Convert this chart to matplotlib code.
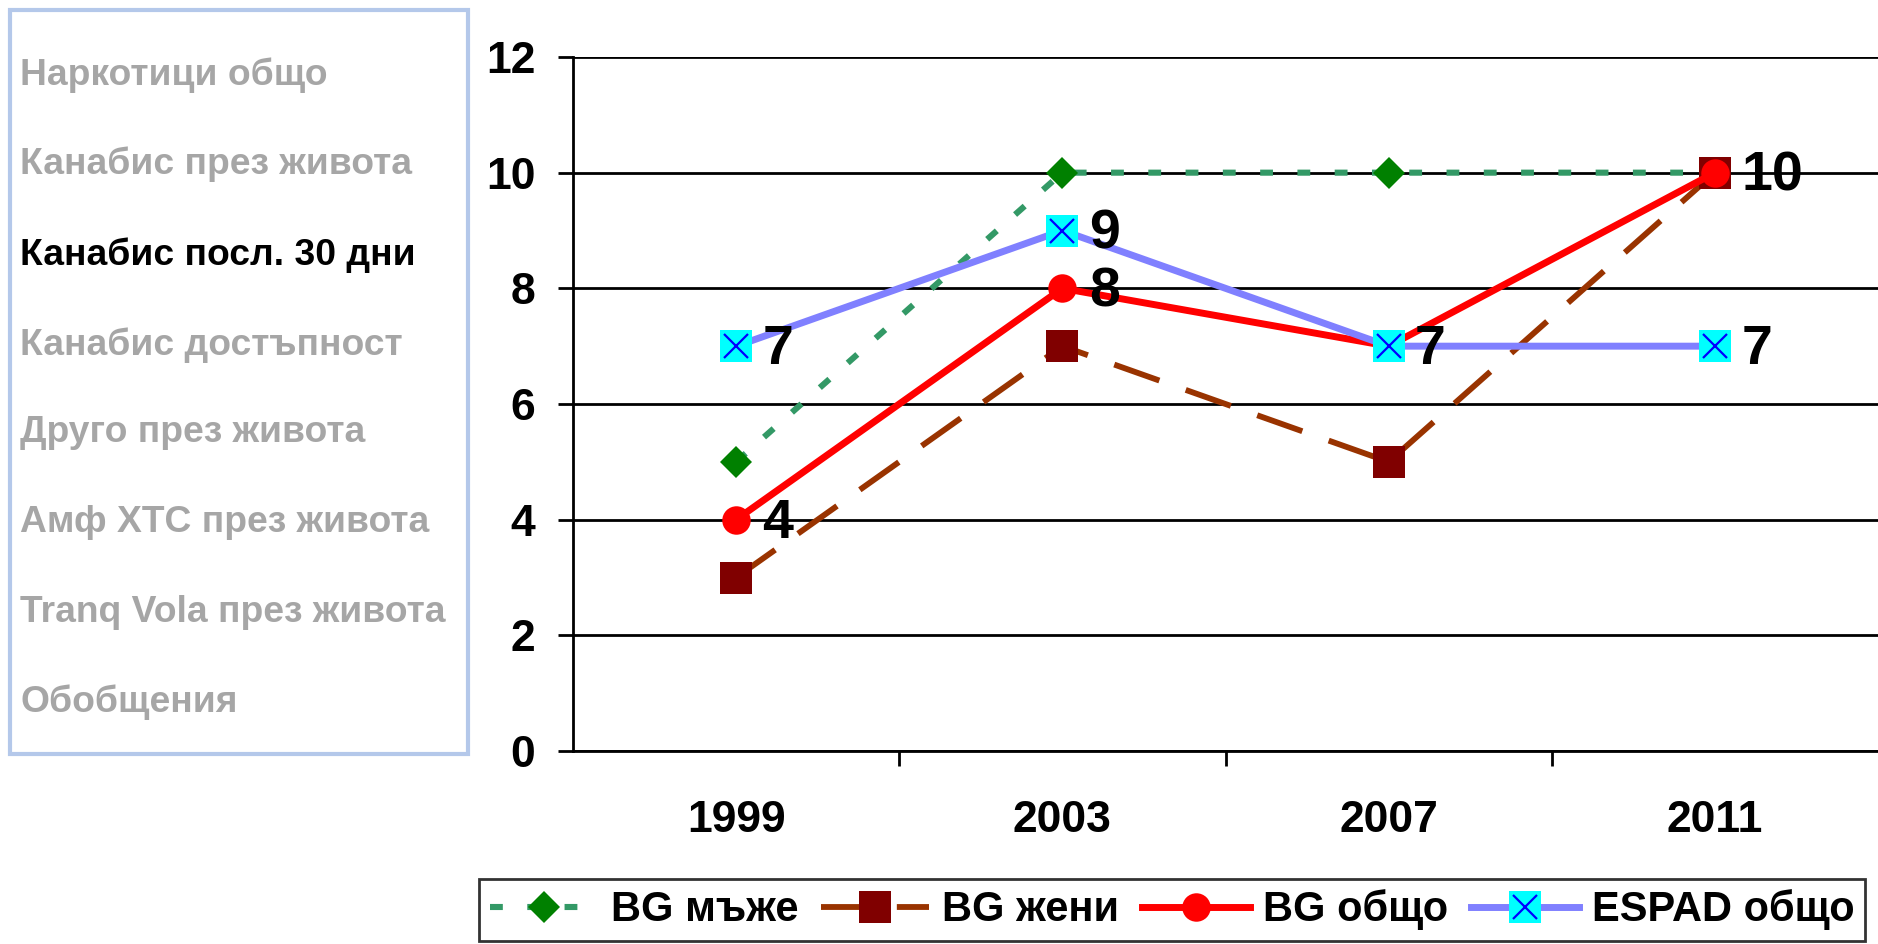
"""
Канабис посл. 30 дни - линейна диаграмма по години
"""

import matplotlib
matplotlib.use('Agg')
import matplotlib.pyplot as plt
from matplotlib.patches import Rectangle

# данни
years = ['1999', '2003', '2007', '2011']
bg_men = [5, 10, 10, 10]
bg_women = [3, 7, 5, 10]
bg_total = [4, 8, 7, 10]
espad_total = [7, 9, 7, 7]

menu_items = ['Наркотици общо', 'Канабис през живота', 'Канабис посл. 30 дни',
              'Канабис достъпност', 'Друго през живота', 'Амф ХТС през живота',
              'Tranq Vola през живота', 'Обобщения']
active_item = 'Канабис посл. 30 дни'

series_names = ['BG мъже', 'BG жени', 'BG общо', 'ESPAD общо']

# етикети: (серия, индекс на година)
labelled = [(bg_total, 0), (bg_total, 1), (bg_total, 3),
            (espad_total, 0), (espad_total, 1), (espad_total, 2), (espad_total, 3)]

plt.rcParams['font.family'] = ['Liberation Sans', 'DejaVu Sans']
plt.rcParams['font.weight'] = 'bold'

W, H = 1878, 944
fig = plt.figure(figsize=(W / 100, H / 100), dpi=100)

# главна графика
ax = fig.add_axes([573 / W, 1 - 751 / H, (W - 573) / W, (751 - 57) / H])
x = [i + 0.5 for i in range(len(years))]

l1, = ax.plot(x, bg_men, color='#339966', lw=4.4, dashes=(2.1, 4.0),
              marker='D', ms=16.5, mfc='#008000', mec='#008000', mew=0, zorder=3)
l2, = ax.plot(x, bg_women, color='#993300', lw=4.2, dashes=(8.2, 4.8),
              marker='s', ms=22.5, mfc='#800000', mec='#800000', mew=0, zorder=4)
l3, = ax.plot(x, bg_total, color='#ff0000', lw=5,
              marker='o', ms=20.5, mfc='#ff0000', mec='#ff0000', mew=0, zorder=5)
l4, = ax.plot(x, espad_total, color='#8080ff', lw=5,
              marker='s', ms=22.5, mfc='#00ffff', mec='#00ffff', mew=0, zorder=6)
l4x, = ax.plot(x, espad_total, ls='none', marker='x', ms=17, mec='#0000ff',
               mew=1.6, zorder=7)

for ser, i in labelled:
    ax.annotate(str(ser[i]), (x[i], ser[i]), xytext=(19, -3),
                textcoords='offset points', ha='left', va='center',
                fontsize=40, fontweight='bold', zorder=8)

ax.set_xlim(0, len(years))
ax.set_ylim(0, 12)
ax.set_yticks(range(0, 13, 2))
ax.set_xticks(x)
ax.set_xticklabels(years)
ax.set_xticks(range(1, len(years)), minor=True)
ax.tick_params(axis='x', which='major', length=0, pad=35, labelsize=32)
ax.tick_params(axis='x', which='minor', length=11, width=2, direction='out')
ax.tick_params(axis='y', length=11, width=2, direction='out', pad=16, labelsize=32)

ax.grid(axis='y', color='black', lw=2)
ax.set_axisbelow(True)
for side in ['top', 'right']:
    ax.spines[side].set_visible(False)
ax.spines['left'].set_linewidth(2)
ax.spines['bottom'].set_linewidth(2)

# легенда
leg = fig.legend([l1, l2, l3, (l4, l4x)], series_names, ncol=4,
                 loc='center', bbox_to_anchor=(1172 / W, 1 - 910 / H),
                 frameon=True, fancybox=False, edgecolor='black',
                 handlelength=2.6, columnspacing=0.55, handletextpad=0.3,
                 borderpad=0.25, borderaxespad=0,
                 prop={'weight': 'bold', 'size': 30})
leg.get_frame().set_linewidth(2)

# лявото меню
fig.patches.append(Rectangle((10 / W, 1 - 754 / H), 458 / W, 744 / H,
                             transform=fig.transFigure, facecolor='white',
                             edgecolor='#b4c8ea', lw=3))
ys = [75, 164, 255, 345, 433, 523, 613, 702]
for name, yy in zip(menu_items, ys):
    col = 'black' if name == active_item else '#a6a6a6'
    fig.text(20 / W, 1 - yy / H, name, ha='left', va='center',
             fontsize=26.8, fontweight='bold', color=col)

fig.savefig('out.png', dpi=100)
